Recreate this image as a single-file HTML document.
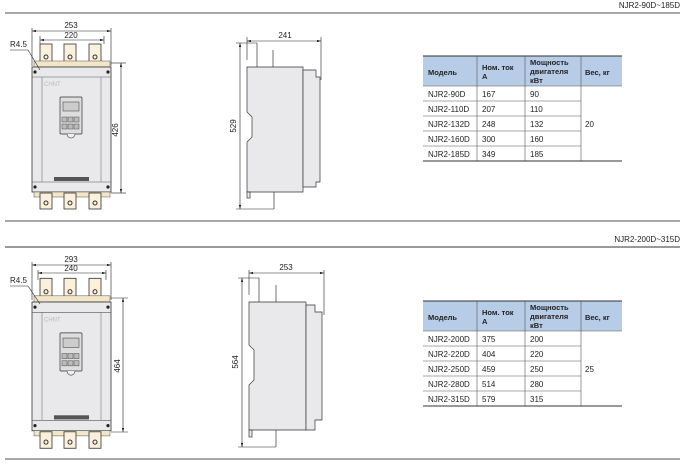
<!DOCTYPE html>
<html><head><meta charset="utf-8"><style>
body{margin:0;width:686px;height:466px;background:#fff;overflow:hidden;font-family:"Liberation Sans",sans-serif}
svg{position:absolute;left:0;top:0}
</style></head><body>
<svg width="686" height="466" viewBox="0 0 686 466" font-family="Liberation Sans, sans-serif">
<defs>
<marker id="a" viewBox="0 0 10 6" refX="10" refY="3" markerWidth="7" markerHeight="4" orient="auto-start-reverse"><path d="M0,0L10,3L0,6z" fill="#222"/></marker>
<g id="front">
  <rect x="40" y="-23" width="12" height="22" fill="#fbf0dc" stroke="#333" stroke-width="0.8"/>
  <rect x="64" y="-23" width="12" height="22" fill="#fbf0dc" stroke="#333" stroke-width="0.8"/>
  <rect x="89" y="-23" width="12" height="22" fill="#fbf0dc" stroke="#333" stroke-width="0.8"/>
  <circle cx="46" cy="-10" r="2" fill="none" stroke="#333"/><circle cx="70" cy="-10" r="2" fill="none" stroke="#333"/><circle cx="95" cy="-10" r="2" fill="none" stroke="#333"/>
  <rect x="34" y="-6" width="76" height="6" fill="#f3e6c8" stroke="#555" stroke-width="0.5"/>
  <rect x="32" y="0" width="79" height="125" fill="#e9e9eb" stroke="#333" stroke-width="0.8"/>
  <line x1="32" y1="10" x2="111" y2="10" stroke="#555" stroke-width="0.6"/>
  <line x1="32" y1="115" x2="111" y2="115" stroke="#555" stroke-width="0.6"/>
  <line x1="42" y1="10" x2="42" y2="115" stroke="#777" stroke-width="0.6"/>
  <line x1="101" y1="10" x2="101" y2="115" stroke="#777" stroke-width="0.6"/>
  <circle cx="35" cy="5" r="1.6" fill="#222"/><circle cx="108" cy="5" r="1.6" fill="#222"/>
  <circle cx="35" cy="120" r="1.6" fill="#222"/><circle cx="108" cy="120" r="1.6" fill="#222"/>
  <text x="44" y="19" font-size="6" fill="#bbb">CHNT</text>
  <rect x="60" y="30" width="22" height="37" rx="1" fill="#ddd" stroke="#333" stroke-width="0.7"/>
  <rect x="63" y="35" width="16" height="9" fill="#ccc" stroke="#333" stroke-width="0.5"/>
  <rect x="62" y="50" width="5" height="5" fill="#bbb" stroke="#333" stroke-width="0.4"/><rect x="68" y="50" width="5" height="5" fill="#bbb" stroke="#333" stroke-width="0.4"/><rect x="74" y="50" width="5" height="5" fill="#bbb" stroke="#333" stroke-width="0.4"/>
  <rect x="62" y="57" width="5" height="5" fill="#bbb" stroke="#333" stroke-width="0.4"/><rect x="68" y="57" width="5" height="5" fill="#bbb" stroke="#333" stroke-width="0.4"/><rect x="74" y="57" width="5" height="5" fill="#bbb" stroke="#333" stroke-width="0.4"/>
  <path d="M67,67 a4,4 0 0 0 8,0" fill="#eee" stroke="#333" stroke-width="0.6"/>
  <rect x="54" y="110" width="35" height="4" fill="#555"/>
  <rect x="34" y="125" width="76" height="5" fill="#f3e6c8" stroke="#555" stroke-width="0.5"/>
  <rect x="40" y="126" width="12" height="16" fill="#fbf0dc" stroke="#333" stroke-width="0.8"/>
  <rect x="64" y="126" width="12" height="16" fill="#fbf0dc" stroke="#333" stroke-width="0.8"/>
  <rect x="89" y="126" width="12" height="16" fill="#fbf0dc" stroke="#333" stroke-width="0.8"/>
  <circle cx="46" cy="136" r="2" fill="none" stroke="#333"/><circle cx="70" cy="136" r="2" fill="none" stroke="#333"/><circle cx="95" cy="136" r="2" fill="none" stroke="#333"/>
</g>
</defs>
<g font-size="8" fill="#222">
<line x1="5" y1="13" x2="680" y2="13" stroke="#888" stroke-width="1.5"/>
<line x1="5" y1="221" x2="680" y2="221" stroke="#888" stroke-width="1.5"/>
<line x1="5" y1="247" x2="680" y2="247" stroke="#333" stroke-width="1"/>
<line x1="5" y1="459" x2="680" y2="459" stroke="#888" stroke-width="1.5"/>
<text x="680" y="8" text-anchor="end" font-size="8">NJR2-90D~185D</text>
<text x="680" y="242" text-anchor="end" font-size="8">NJR2-200D~315D</text>

<!-- section 1 front -->
<use href="#front" transform="translate(0,67)"/>
<g stroke="#222" stroke-width="0.6">
<line x1="32" y1="28" x2="32" y2="66"/><line x1="111" y1="28" x2="111" y2="66"/>
<line x1="32" y1="31" x2="111" y2="31" marker-start="url(#a)" marker-end="url(#a)"/>
<line x1="40" y1="36" x2="40" y2="44"/><line x1="104" y1="36" x2="104" y2="44"/>
<line x1="40" y1="40" x2="104" y2="40" marker-start="url(#a)" marker-end="url(#a)"/>
<line x1="111" y1="63" x2="126" y2="63"/><line x1="111" y1="193" x2="126" y2="193"/>
<line x1="121" y1="63" x2="121" y2="193" marker-start="url(#a)" marker-end="url(#a)"/>
<line x1="10" y1="50" x2="28" y2="50"/><line x1="28" y1="50" x2="40" y2="70"/>
</g>
<text x="71" y="28" text-anchor="middle">253</text>
<text x="71" y="38" text-anchor="middle">220</text>
<text x="10" y="47">R4.5</text>
<text transform="translate(118,130) rotate(-90)" text-anchor="middle">426</text>

<!-- section 1 side -->
<g stroke="#333" stroke-width="0.7" fill="#e9e9eb">
<path d="M247,67 H303 V192 H247 V142 L252,137 V117 L247,112 Z"/>
<path d="M303,70 H316 V77 H320 V182 H316 V187 H303 Z"/>
<line x1="257" y1="43" x2="257" y2="67"/><line x1="273" y1="50" x2="273" y2="67"/>
<line x1="274" y1="192" x2="274" y2="209"/><rect x="247" y="192" width="3" height="6"/>
</g>
<g stroke="#222" stroke-width="0.6">
<line x1="236" y1="43" x2="257" y2="43"/><line x1="236" y1="209" x2="274" y2="209"/>
<line x1="240" y1="43" x2="240" y2="209" marker-start="url(#a)" marker-end="url(#a)"/>
<line x1="247" y1="37" x2="247" y2="60"/><line x1="321" y1="37" x2="321" y2="80"/>
<line x1="247" y1="41" x2="321" y2="41" marker-start="url(#a)" marker-end="url(#a)"/>
</g>
<text x="285" y="38" text-anchor="middle">241</text>
<text transform="translate(236,126) rotate(-90)" text-anchor="middle">529</text>

<!-- section 2 front -->
<use href="#front" transform="translate(0,302) scale(1,1.03)"/>
<g stroke="#222" stroke-width="0.6">
<line x1="32" y1="262" x2="32" y2="300"/><line x1="111" y1="262" x2="111" y2="300"/>
<line x1="32" y1="265" x2="111" y2="265" marker-start="url(#a)" marker-end="url(#a)"/>
<line x1="38" y1="270" x2="38" y2="280"/><line x1="106" y1="270" x2="106" y2="280"/>
<line x1="38" y1="273" x2="106" y2="273" marker-start="url(#a)" marker-end="url(#a)"/>
<line x1="111" y1="298" x2="128" y2="298"/><line x1="111" y1="432" x2="128" y2="432"/>
<line x1="123" y1="298" x2="123" y2="432" marker-start="url(#a)" marker-end="url(#a)"/>
<line x1="10" y1="286" x2="28" y2="286"/><line x1="28" y1="286" x2="40" y2="304"/>
</g>
<text x="71" y="262" text-anchor="middle">293</text>
<text x="71" y="271" text-anchor="middle">240</text>
<text x="10" y="283">R4.5</text>
<text transform="translate(120,366) rotate(-90)" text-anchor="middle">464</text>

<!-- section 2 side -->
<g stroke="#333" stroke-width="0.7" fill="#e9e9eb">
<path d="M249,302 H306 V430 H249 V385 L254,380 V350 L249,345 Z"/>
<path d="M306,305 H315 V312 H322 V420 H315 V430 H306 Z"/>
<line x1="259" y1="278" x2="259" y2="302"/><line x1="276" y1="285" x2="276" y2="302"/>
<line x1="276" y1="430" x2="276" y2="447"/><rect x="249" y="430" width="3" height="7"/>
</g>
<g stroke="#222" stroke-width="0.6">
<line x1="238" y1="278" x2="259" y2="278"/><line x1="238" y1="447" x2="276" y2="447"/>
<line x1="242" y1="278" x2="242" y2="447" marker-start="url(#a)" marker-end="url(#a)"/>
<line x1="249" y1="270" x2="249" y2="295"/><line x1="324" y1="270" x2="324" y2="315"/>
<line x1="249" y1="273" x2="324" y2="273" marker-start="url(#a)" marker-end="url(#a)"/>
</g>
<text x="286" y="270" text-anchor="middle">253</text>
<text transform="translate(238,362) rotate(-90)" text-anchor="middle">564</text>
</g>

<!-- tables -->
<g font-size="8" fill="#222">
<g id="t1">
<rect x="423" y="56" width="199" height="30" fill="#b7cce6"/>
<line x1="423" y1="56" x2="622" y2="56" stroke="#333" stroke-width="1"/>
<g stroke="#555" stroke-width="0.6">
<line x1="477" y1="56" x2="477" y2="161"/><line x1="525" y1="56" x2="525" y2="161"/><line x1="581" y1="56" x2="581" y2="161"/>
<line x1="423" y1="86" x2="622" y2="86"/>
<line x1="423" y1="101" x2="581" y2="101"/><line x1="423" y1="116" x2="581" y2="116"/><line x1="423" y1="131" x2="581" y2="131"/><line x1="423" y1="146" x2="581" y2="146"/>
<line x1="423" y1="161" x2="622" y2="161" stroke="#333" stroke-width="1"/>
</g>
<g font-weight="bold" font-size="7.5">
<text x="428" y="75">Модель</text>
<text x="482" y="70">Ном. ток</text><text x="482" y="79">А</text>
<text x="530" y="65">Мощность</text><text x="530" y="74">двигателя</text><text x="530" y="83">кВт</text>
<text x="585" y="75">Вес, кг</text>
</g>
<text x="428" y="97">NJR2-90D</text><text x="482" y="97">167</text><text x="530" y="97">90</text>
<text x="428" y="112">NJR2-110D</text><text x="482" y="112">207</text><text x="530" y="112">110</text>
<text x="428" y="127">NJR2-132D</text><text x="482" y="127">248</text><text x="530" y="127">132</text>
<text x="428" y="142">NJR2-160D</text><text x="482" y="142">300</text><text x="530" y="142">160</text>
<text x="428" y="157">NJR2-185D</text><text x="482" y="157">349</text><text x="530" y="157">185</text>
<text x="585" y="127">20</text>
</g>
<g>
<rect x="423" y="301" width="199" height="30" fill="#b7cce6"/>
<line x1="423" y1="301" x2="622" y2="301" stroke="#333" stroke-width="1"/>
<g stroke="#555" stroke-width="0.6">
<line x1="477" y1="301" x2="477" y2="406"/><line x1="525" y1="301" x2="525" y2="406"/><line x1="581" y1="301" x2="581" y2="406"/>
<line x1="423" y1="331" x2="622" y2="331"/>
<line x1="423" y1="346" x2="581" y2="346"/><line x1="423" y1="361" x2="581" y2="361"/><line x1="423" y1="376" x2="581" y2="376"/><line x1="423" y1="391" x2="581" y2="391"/>
<line x1="423" y1="406" x2="622" y2="406" stroke="#333" stroke-width="1"/>
</g>
<g font-weight="bold" font-size="7.5">
<text x="428" y="320">Модель</text>
<text x="482" y="315">Ном. ток</text><text x="482" y="324">А</text>
<text x="530" y="310">Мощность</text><text x="530" y="319">двигателя</text><text x="530" y="328">кВт</text>
<text x="585" y="320">Вес, кг</text>
</g>
<text x="428" y="342">NJR2-200D</text><text x="482" y="342">375</text><text x="530" y="342">200</text>
<text x="428" y="357">NJR2-220D</text><text x="482" y="357">404</text><text x="530" y="357">220</text>
<text x="428" y="372">NJR2-250D</text><text x="482" y="372">459</text><text x="530" y="372">250</text>
<text x="428" y="387">NJR2-280D</text><text x="482" y="387">514</text><text x="530" y="387">280</text>
<text x="428" y="402">NJR2-315D</text><text x="482" y="402">579</text><text x="530" y="402">315</text>
<text x="585" y="372">25</text>
</g>
</g>
</svg>
</body></html>
